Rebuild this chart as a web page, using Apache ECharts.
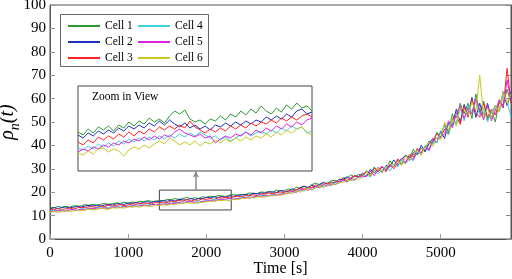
<!DOCTYPE html>
<html>
<head>
<meta charset="utf-8">
<script src="https://cdn.jsdelivr.net/npm/echarts@6/dist/echarts.min.js"></script>
<style>
html, body { margin: 0; padding: 0; background: #fff; }
#main { width: 512px; height: 279px; }
</style>
</head>
<body>
<div id="main"></div>
<script>
// 数据：每 50 s 一个采样点（主图），放大窗口内每 20 s 一个采样点
var cellNames = ['Cell 1', 'Cell 2', 'Cell 3', 'Cell 4', 'Cell 5', 'Cell 6'];
var cellColors = ['#2a9a2a', '#1f2fc0', '#ff2020', '#3cd0e0', '#e020e0', '#c8c820'];
var timeStep = 50;

var cell1 = [
  13.6,13.3,13.9,13.6,13.9,13.6,14.2,14.1,14.1,14.7,14.4,14.8,14.4,14.9,15.2,14.8,15.1,15.4,15.2,15.7,15.3,15.8,15.5,16.1,16.0,16.4,16.1,16.0,16.5,
  16.3,16.9,16.8,17.3,16.9,17.3,17.8,17.2,17.6,17.3,18.0,17.8,18.3,17.9,18.6,18.4,18.2,18.8,
  19.0,18.6,19.1,18.9,19.7,19.5,19.4,20.1,19.9,20.3,20.0,20.9,20.6,20.6,
  21.4,20.8,22.2,21.6,22.4,21.9,23.2,23.9,23.1,24.0,23.6,25.1,24.9,24.6,26.2,25.9,27.4,26.5,27.6,27.2,
  29.2,27.7,30.8,28.6,30.8,29.3,33.4,31.6,33.8,31.7,35.8,34.6,38.3,35.9,38.9,37.2,41.9,40.6,45.6,43.5,
  49.0,45.5,53.5,48.5,58.0,53.5,58.0,51.5,62.0,54.0,59.0,51.0,54.5,50.0,59.5,57.0,64.0,58.0
];
var cell2 = [
  12.9,13.4,13.0,13.4,13.7,13.3,13.6,13.9,13.6,14.1,14.4,14.1,14.5,14.1,14.5,14.8,14.5,15.1,14.9,14.8,15.4,15.2,15.6,15.2,15.7,15.9,15.6,16.2,16.0,
  16.4,16.1,16.6,16.2,17.0,16.7,16.7,17.3,16.8,17.3,17.2,17.8,17.6,18.1,17.7,18.2,17.8,18.5,
  18.2,18.8,18.7,19.1,18.7,19.6,19.2,19.7,19.5,20.1,20.1,19.9,20.7,20.4,
  20.3,21.5,20.7,21.9,22.6,22.0,23.0,22.2,23.4,24.2,23.4,24.4,23.9,25.6,25.4,26.6,25.7,27.0,26.7,28.1,
  26.8,29.8,28.2,30.6,28.4,31.4,30.8,33.8,31.4,33.9,35.9,33.6,36.9,36.1,40.0,37.5,40.6,43.0,41.1,46.1,
  43.0,49.5,48.5,55.5,50.0,57.5,53.0,60.5,52.0,58.0,52.0,58.0,51.5,57.0,54.5,63.0,57.0,63.0
];
var cell3 = [
  12.7,12.5,13.0,12.6,12.9,13.3,12.8,13.3,13.6,13.3,13.9,13.7,13.5,14.1,13.9,14.4,14.0,14.4,14.7,14.2,14.6,15.0,14.8,15.3,14.9,15.3,15.0,15.6,15.4,
  15.8,15.5,16.2,16.0,16.5,16.1,17.0,16.2,16.7,16.5,17.2,16.9,17.3,16.9,17.6,17.5,17.8,17.8,
  18.0,18.3,18.0,18.6,18.4,19.0,18.5,19.2,19.2,19.7,19.3,19.8,20.1,19.8,
  20.7,20.3,21.1,21.8,21.0,22.2,22.0,23.2,22.4,23.3,24.0,23.3,24.7,24.5,25.7,25.0,26.2,27.1,26.3,27.4,
  28.5,27.0,30.2,28.9,31.0,28.7,31.7,30.8,34.2,32.7,32.5,36.1,35.0,38.7,36.7,39.6,38.4,42.2,44.9,43.5,
  47.0,44.5,51.5,52.5,49.0,56.5,52.0,59.5,54.0,52.0,58.0,52.0,55.5,53.0,58.5,56.0,73.0,58.0
];
var cell4 = [
  12.0,12.3,11.9,12.4,12.2,12.7,12.5,12.3,13.0,12.8,13.3,12.9,13.3,13.6,13.1,13.5,13.8,13.5,14.1,13.8,14.2,13.9,14.4,14.7,14.3,14.6,14.9,14.7,15.0,
  14.8,15.3,15.2,15.7,15.5,15.9,15.6,16.0,15.7,16.3,15.9,16.5,16.3,16.9,16.7,17.1,16.7,16.6,
  17.5,17.2,17.9,17.7,18.1,17.8,18.3,18.7,18.4,18.8,18.6,19.3,19.2,19.2,
  19.9,19.5,20.3,21.0,20.5,21.6,20.9,22.0,22.7,22.3,23.1,22.7,24.0,23.9,24.9,24.4,25.4,25.0,26.7,26.2,
  27.5,26.5,29.2,27.9,29.6,31.1,29.0,31.9,30.9,34.0,32.1,34.5,33.5,37.2,36.6,40.0,38.0,41.2,41.2,45.6,
  48.0,44.5,50.5,49.5,56.0,50.5,57.0,54.5,59.0,53.0,56.0,50.0,54.5,57.0,54.5,61.0,59.0,52.0
];
var cell5 = [
  11.9,11.7,12.2,12.0,11.9,12.4,12.6,12.2,12.7,12.4,13.0,12.9,13.3,13.0,13.4,13.0,13.5,13.8,13.4,13.9,13.7,14.3,13.9,14.2,14.5,14.1,14.6,14.8,14.5,
  15.0,14.8,15.3,15.2,15.6,15.2,16.0,15.9,15.7,15.4,16.2,16.1,16.6,16.2,16.7,16.8,17.1,17.4,
  16.9,17.4,17.3,17.9,17.4,18.0,18.3,18.0,18.6,18.4,19.0,18.6,19.2,19.3,
  19.5,20.5,19.9,20.9,21.5,20.8,21.8,22.3,21.9,23.2,22.7,23.7,23.2,24.4,25.2,24.6,25.8,25.3,26.7,26.8,
  26.6,29.1,27.1,29.7,31.0,29.2,31.8,30.0,32.5,34.6,32.8,35.4,33.9,38.3,36.7,39.5,37.7,42.2,43.0,43.2,
  45.0,50.5,47.5,53.5,57.0,51.5,56.0,53.5,60.0,55.0,51.0,57.0,50.5,55.0,59.5,56.0,68.0,59.0
];
var cell6 = [
  11.3,11.7,11.4,11.8,12.1,11.7,12.0,12.3,12.0,12.5,12.7,12.4,12.7,13.1,12.8,12.7,13.3,13.2,13.4,13.2,13.8,13.6,13.9,13.6,14.2,14.1,14.0,14.5,14.3,
  14.7,14.3,14.9,14.5,15.3,15.3,15.6,15.3,15.3,15.7,15.6,15.9,16.2,16.0,16.5,16.4,16.7,16.3,
  17.1,16.8,17.3,17.3,17.8,17.5,18.0,18.0,17.9,18.5,18.4,19.0,18.6,19.2,
  19.8,19.6,20.6,20.0,20.9,21.7,21.1,21.8,22.5,21.9,23.0,23.8,23.1,24.1,24.1,25.3,24.8,25.9,25.4,26.7,
  28.3,27.2,29.1,30.4,28.3,30.6,32.4,30.5,33.3,31.4,35.6,33.7,36.0,37.9,35.7,39.4,41.4,39.6,43.5,42.3,
  50.0,46.5,51.5,48.5,56.0,55.5,53.0,58.5,55.0,70.0,52.0,56.0,51.5,57.0,54.5,63.0,58.0,62.0
];

// 放大窗口：1400 s ~ 2320 s
var zoomStart = 1400;
var zoomStep = 20;
var zoomXRange = [1400, 2320];
var zoomYRange = [12.4, 20.9];
var zoom1 = [16.3,16.0,16.6,16.2,16.8,16.5,16.9,16.4,17.0,16.7,17.3,16.9,17.4,17.1,17.7,17.3,17.6,17.2,17.9,18.4,18.1,18.5,17.6,17.3,17.5,17.1,17.6,17.4,17.9,17.5,18.1,17.8,18.4,18.0,18.6,18.2,18.9,18.4,18.1,18.7,18.3,19.0,18.6,19.2,18.7,18.9,18.4];
var zoom2 = [16.0,15.7,16.2,15.9,16.4,16.1,16.5,16.2,16.7,16.4,16.9,16.6,17.0,16.7,17.2,16.9,17.4,17.0,17.5,17.1,16.8,17.2,16.7,17.0,16.6,16.9,16.5,17.0,16.8,17.2,16.9,17.3,17.0,17.4,17.1,17.5,17.3,17.8,17.5,17.9,17.6,18.1,17.8,18.4,18.6,18.1,18.3];
var zoom3 = [15.3,15.0,15.5,15.2,15.8,15.5,15.9,15.6,16.1,15.8,16.3,15.9,16.4,16.1,16.6,16.3,16.8,16.5,16.9,16.6,17.0,16.7,17.4,16.8,16.5,16.2,16.6,16.3,16.7,16.4,16.9,16.6,17.0,16.7,17.2,16.9,17.3,17.1,17.5,17.2,17.7,17.4,17.8,17.5,17.9,18.1,17.8];
var zoom4 = [14.7,14.5,14.9,14.6,15.1,14.8,15.2,14.9,15.4,15.1,15.6,15.3,15.7,15.4,15.8,15.5,15.9,15.6,16.0,15.7,16.1,15.8,16.2,15.9,16.3,16.0,15.7,15.9,15.5,15.8,15.4,15.7,16.0,16.3,15.9,16.2,16.4,16.1,16.5,16.2,16.7,16.4,16.9,16.6,16.8,16.2,16.4];
var zoom5 = [14.3,14.6,14.4,14.8,14.6,15.0,14.8,15.2,15.0,15.4,15.2,15.6,15.4,15.8,15.5,15.9,15.6,16.0,15.8,16.3,16.6,16.2,16.0,15.8,16.1,15.7,15.9,15.2,15.6,15.9,15.7,16.1,15.9,16.3,16.0,16.5,16.2,16.7,16.4,16.9,16.6,17.1,16.8,17.3,17.0,17.5,17.7];
var zoom6 = [14.2,14.0,14.4,14.1,14.6,14.7,14.3,14.6,14.4,13.9,14.5,14.8,14.6,15.0,14.7,15.1,15.4,15.1,15.7,15.4,15.0,15.3,15.0,15.4,14.9,15.3,15.1,15.5,15.2,15.6,15.3,15.7,15.4,15.8,15.5,15.9,15.7,16.1,15.8,16.3,16.0,16.5,16.2,16.6,16.8,16.3,16.0];

var xTickStep = 1000;
var yTickStep = 10;
var arrowX = 1867;
var arrowTop = 28.8;

var mainData = [cell1, cell2, cell3, cell4, cell5, cell6];
var zoomData = [zoom1, zoom2, zoom3, zoom4, zoom5, zoom6];

function toPairs(values, t0, dt) {
    return values.map(function (v, i) { return [t0 + i * dt, v]; });
}

var serif = 'Liberation Serif, DejaVu Serif, serif';
var chart = echarts.init(document.getElementById('main'), null, { renderer: 'canvas' });

var series = [];
// 主图折线
mainData.forEach(function (vals, i) {
    var s = {
        name: cellNames[i],
        type: 'line',
        xAxisIndex: 0,
        yAxisIndex: 0,
        data: toPairs(vals, 0, timeStep),
        showSymbol: false,
        symbol: 'none',
        lineStyle: { width: 1, color: cellColors[i] },
        itemStyle: { color: cellColors[i] },
        silent: true
    };
    if (i === 0) {
        // 放大区域的方框和箭头
        s.markArea = {
            silent: true,
            itemStyle: { color: 'rgba(0,0,0,0)', borderColor: '#444', borderWidth: 1 },
            data: [[{ coord: [zoomXRange[0], zoomYRange[0]] }, { coord: [zoomXRange[1], zoomYRange[1]] }]]
        };
        s.markLine = {
            silent: true,
            symbol: ['none', 'arrow'],
            symbolSize: [5, 6],
            label: { show: false },
            lineStyle: { color: '#8a8a8a', width: 1.5, type: 'solid' },
            data: [[{ coord: [arrowX, zoomYRange[1]] }, { coord: [arrowX, arrowTop] }]]
        };
    }
    series.push(s);
});
// 放大视图折线
zoomData.forEach(function (vals, i) {
    series.push({
        name: cellNames[i],
        type: 'line',
        xAxisIndex: 1,
        yAxisIndex: 2,
        data: toPairs(vals, zoomStart, zoomStep),
        showSymbol: false,
        symbol: 'none',
        lineStyle: { width: 1, color: cellColors[i] },
        itemStyle: { color: cellColors[i] },
        silent: true
    });
});

function legendOf(names, left) {
    return {
        data: names,
        orient: 'vertical',
        left: left,
        top: 18,
        padding: 0,
        itemGap: 0,
        itemWidth: 32,
        itemHeight: 2,
        icon: 'rect',
        selectedMode: false,
        textStyle: { fontFamily: serif, fontSize: 11.5, lineHeight: 16, color: '#000' }
    };
}

var option = {
    animation: false,
    backgroundColor: '#fff',
    grid: [
        { left: 50, right: 1, top: 5, bottom: 40, show: true, borderColor: '#555', borderWidth: 1, containLabel: false, outerBoundsMode: 'none' },
        { left: 78, top: 86, width: 234, height: 85, show: true, borderColor: '#444', borderWidth: 1, backgroundColor: '#fff', containLabel: false, outerBoundsMode: 'none' }
    ],
    legend: [
        legendOf(cellNames.slice(0, 3), 68),
        legendOf(cellNames.slice(3, 6), 138)
    ],
    xAxis: [
        {
            type: 'value', gridIndex: 0, min: 0, max: 5900, interval: xTickStep,
            name: 'Time [s]', nameLocation: 'middle', nameGap: 22, nameMoveOverlap: false,
            nameTextStyle: { fontFamily: serif, fontSize: 16, color: '#000' },
            axisLine: { show: true, lineStyle: { color: '#555' } },
            axisTick: { show: true, inside: true, length: 5, lineStyle: { color: '#999' } },
            axisLabel: {
                fontFamily: serif, fontSize: 15, color: '#000', margin: 7, showMaxLabel: false,
                formatter: function (v) { return String(v); }
            },
            splitLine: { show: false }
        },
        {
            type: 'value', gridIndex: 1, min: zoomXRange[0], max: zoomXRange[1], show: false
        }
    ],
    yAxis: [
        {
            type: 'value', gridIndex: 0, min: 0, max: 100, interval: yTickStep,
            name: '{i|ρ}{s|n}{i|(t)}', nameLocation: 'middle', nameGap: 28, nameMoveOverlap: false,
            nameTextStyle: {
                rich: {
                    i: { fontFamily: serif, fontStyle: 'italic', fontSize: 20, lineHeight: 24, verticalAlign: 'top', color: '#000' },
                    s: { fontFamily: serif, fontStyle: 'italic', fontSize: 14, lineHeight: 14, verticalAlign: 'bottom', color: '#000' }
                }
            },
            axisLine: { show: true, lineStyle: { color: '#555' } },
            axisTick: { show: true, inside: true, length: 5, lineStyle: { color: '#999' } },
            axisLabel: { fontFamily: serif, fontSize: 15, color: '#000', margin: 4 },
            splitLine: { show: false }
        },
        {
            type: 'value', gridIndex: 0, position: 'right', min: 0, max: 100, interval: yTickStep,
            axisLine: { show: true, lineStyle: { color: '#555' } },
            axisTick: { show: true, inside: true, length: 5, lineStyle: { color: '#888' } },
            axisLabel: { show: false },
            splitLine: { show: false }
        },
        {
            type: 'value', gridIndex: 1, min: zoomYRange[0], max: zoomYRange[1], show: false
        }
    ],
    graphic: [
        {
            type: 'rect', left: 60, top: 14, z: -1,
            shape: { width: 148, height: 52 },
            style: { fill: '#fff', stroke: '#666', lineWidth: 1 }
        },
        {
            type: 'text', left: 92, top: 91,
            style: { text: 'Zoom in View', fontFamily: serif, fontSize: 11.5, fill: '#000' }
        }
    ],
    series: series
};

chart.setOption(option);
</script>
</body>
</html>
